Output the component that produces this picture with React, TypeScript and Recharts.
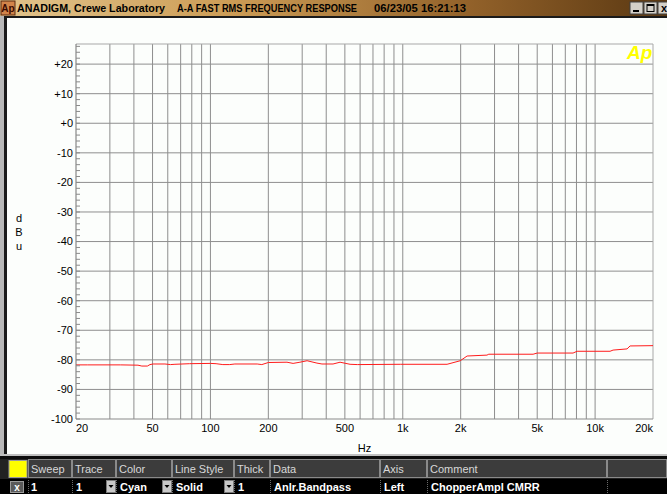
import React from 'react';
import { LineChart, Line, XAxis, YAxis, CartesianGrid, ReferenceLine } from 'recharts';

// Trace: Anlr.Bandpass level vs frequency
const FREQ_HZ = [20, 23, 34, 42, 44, 47, 48.5, 50.3, 58, 62, 65.4, 78, 100, 107, 116, 126, 134, 175, 185, 200, 250, 269, 292, 318, 358, 380, 434, 472, 532, 580, 970, 1700, 1990, 2160, 2740, 2800, 4760, 5000, 7680, 8060, 11960, 12400, 14660, 15200, 20000];
const LEVEL_DBU = [-81.7, -81.7, -81.7, -81.8, -82.1, -82.1, -81.6, -81.4, -81.4, -81.6, -81.5, -81.3, -81.2, -81.3, -81.6, -81.6, -81.4, -81.4, -81.6, -80.9, -80.8, -81.2, -80.8, -80.3, -81.1, -81.4, -81.4, -80.8, -81.5, -81.6, -81.5, -81.5, -80.3, -78.7, -78.4, -78.1, -78.1, -77.7, -77.7, -77.1, -77.1, -76.7, -76.3, -75.3, -75.2];

const X_LABEL_TICKS = [20, 50, 100, 200, 500, 1000, 2000, 5000, 10000, 20000];
const X_LABEL_TEXT = ['20', '50', '100', '200', '500', '1k', '2k', '5k', '10k', '20k'];
const X_GRID = [30, 40, 50, 60, 70, 80, 90, 100, 200, 300, 400, 500, 600, 700, 800, 900, 1000, 2000, 3000, 4000, 5000, 6000, 7000, 8000, 9000, 10000];
const Y_TICKS = [-100, -98, -96, -94, -92, -90, -88, -86, -84, -82, -80, -78, -76, -74, -72, -70, -68, -66, -64, -62, -60, -58, -56, -54, -52, -50, -48, -46, -44, -42, -40, -38, -36, -34, -32, -30, -28, -26, -24, -22, -20, -18, -16, -14, -12, -10, -8, -6, -4, -2, 0, 2, 4, 6, 8, 10, 12, 14, 16, 18, 20, 22, 24, 26];
const Y_GRID = [-90, -80, -70, -60, -50, -40, -30, -20, -10, 0, 10, 20];
const Y_DOMAIN: [number, number] = [-100, 26.8];
const X_DOMAIN: [number, number] = [20, 20000];

const HEADER_COLS = ['Sweep', 'Trace', 'Color', 'Line Style', 'Thick', 'Data', 'Axis', 'Comment', ''];
const ROW_VALUES = ['1', '1', 'Cyan', 'Solid', '1', 'Anlr.Bandpass', 'Left', 'ChopperAmpl CMRR', ''];
const COL_EDGES = [28, 72, 116, 172, 234, 270, 380, 427, 607, 667];
const DROPDOWN_COLS = [2, 3, 4];

const data = FREQ_HZ.map((f, i) => ({ f, v: LEVEL_DBU[i] }));

const FONT = '"Liberation Sans", Arial, sans-serif';

const fmtY = (v: number) => (v > 0 ? `+${v}` : v === 0 ? '+0' : `${v}`);

const XTick = (props: any) => {
  const { x, y, payload } = props;
  const i = X_LABEL_TICKS.findIndex((t) => Math.abs(t - payload.value) < 1e-6);
  if (i < 0) return <g />;
  const anchor = i === 0 ? 'start' : i === X_LABEL_TICKS.length - 1 ? 'end' : 'middle';
  return (
    <text x={x} y={y + 8} textAnchor={anchor} fontSize={11} fontFamily={FONT} fill="#000">
      {X_LABEL_TEXT[i]}
    </text>
  );
};

const YTick = (props: any) => {
  const { x, y, payload } = props;
  const v = payload.value;
  const axisX = x + 3;
  return (
    <g>
      <line x1={axisX} x2={axisX + 4} y1={y} y2={y} stroke="#8a8a8a" strokeWidth={1} />
      {v % 10 === 0 && (
        <text x={x} y={y} dy="0.355em" textAnchor="end" fontSize={11} fontFamily={FONT} fill="#000">
          {fmtY(v)}
        </text>
      )}
    </g>
  );
};

const DbuLabel = (props: any) => {
  const vb = props.viewBox || { x: 6, y: 44, width: 70, height: 375 };
  const cx = vb.x + 13;
  const cy = vb.y + vb.height / 2;
  return (
    <g fontSize={11} fontFamily={FONT} fill="#000" textAnchor="middle">
      <text x={cx} y={cy - 9.5}>d</text>
      <text x={cx} y={cy + 4.5}>B</text>
      <text x={cx} y={cy + 18.5}>u</text>
    </g>
  );
};

const Chrome = () => (
  <svg width={667} height={494} style={{ position: 'absolute', left: 0, top: 0, pointerEvents: 'none' }}>
    <defs>
      <linearGradient id="tb" x1="0" x2="1" y1="0" y2="0">
        <stop offset="0%" stopColor="#e2c48c" />
        <stop offset="35%" stopColor="#cc9c55" />
        <stop offset="70%" stopColor="#93622a" />
        <stop offset="100%" stopColor="#5a3812" />
      </linearGradient>
    </defs>
    {/* title bar */}
    <rect x={0} y={0} width={667} height={16} fill="url(#tb)" />
    <rect x={1} y={1} width={14} height={14} fill="#d2844a" stroke="#5a2a10" />
    <text x={8} y={12} textAnchor="middle" fontSize={10} fontWeight="bold" fontFamily={FONT} fill="#3a0a00">Ap</text>
    <text x={17} y={12} fontSize={10} fontWeight="bold" fontFamily={FONT} fill="#000" textLength={148} lengthAdjust="spacingAndGlyphs">ANADIGM, Crewe Laboratory</text>
    <text x={177} y={12} fontSize={10} fontWeight="bold" fontFamily={FONT} fill="#000" textLength={180} lengthAdjust="spacingAndGlyphs">A-A FAST RMS FREQUENCY RESPONSE</text>
    <text x={374} y={12} fontSize={10} fontWeight="bold" fontFamily={FONT} fill="#000" textLength={92} lengthAdjust="spacingAndGlyphs">06/23/05 16:21:13</text>
    {/* window buttons */}
    <rect x={630} y={2} width={13} height={12} fill="#d4d0c8" stroke="#404040" />
    <rect x={633} y={10} width={6} height={2} fill="#000" />
    <rect x={644} y={2} width={13} height={12} fill="#d4d0c8" stroke="#404040" />
    <rect x={647} y={4.5} width={7} height={7} fill="none" stroke="#000" />
    <rect x={647} y={4.5} width={7} height={1.5} fill="#000" />
    <rect x={658} y={2} width={13} height={12} fill="#d4d0c8" stroke="#404040" />
    <text x={664} y={12} textAnchor="middle" fontSize={11} fontWeight="bold" fontFamily={FONT} fill="#000">x</text>
    {/* borders */}
    <rect x={0} y={16} width={667} height={2} fill="#1a1a1a" />
    <rect x={0} y={16} width={4} height={440} fill="#b8b8b8" />
    <rect x={4} y={16} width={3} height={440} fill="#1a1a1a" />
    {/* Ap logo */}
    <text x={627} y={58.5} fontSize={19} fontWeight="bold" fontStyle="italic" fontFamily={FONT} fill="#ffff00">Ap</text>
    {/* bottom panel */}
    <rect x={0} y={454} width={667} height={2} fill="#c0c0c0" />
    <rect x={0} y={456} width={667} height={3} fill="#0c0c0c" />
    <rect x={0} y={459} width={667} height={20} fill="#222" />
    <rect x={0} y={479} width={667} height={15} fill="#000" />
    <rect x={9} y={460.5} width={18} height={17} fill="#ffff00" stroke="#9a9a9a" />
    {HEADER_COLS.map((h, i) => (
      <g key={`h${i}`}>
        <rect x={COL_EDGES[i] + 0.5} y={459.5} width={COL_EDGES[i + 1] - COL_EDGES[i] - 1} height={18} fill="#3c3c3c" stroke="#8a8a8a" />
        <text x={COL_EDGES[i] + 3} y={473} fontSize={11} fontFamily={FONT} fill="#d8d8d8">{h}</text>
      </g>
    ))}
    <rect x={10.5} y={481.5} width={13} height={11} fill="#5a5a5a" stroke="#9a9a9a" />
    <text x={17} y={491} textAnchor="middle" fontSize={10} fontWeight="bold" fontFamily={FONT} fill="#fff">x</text>
    {ROW_VALUES.map((r, i) => (
      <g key={`r${i}`}>
        <line x1={COL_EDGES[i] + 0.5} x2={COL_EDGES[i] + 0.5} y1={480} y2={493} stroke="#6a6a6a" strokeDasharray="1 1" />
        {DROPDOWN_COLS.includes(i) && (
          <g>
            <rect x={COL_EDGES[i] - 9.5} y={480.5} width={9} height={12} fill="#c8c8c8" stroke="#7a7a7a" />
            <path d={`M${COL_EDGES[i] - 7.5} ${485} L${COL_EDGES[i] - 2.5} ${485} L${COL_EDGES[i] - 5} ${488} Z`} fill="#000" />
          </g>
        )}
        <text x={COL_EDGES[i] + (i === 0 ? 3 : 4)} y={491} fontSize={11} fontWeight="bold" fontFamily={FONT} fill="#fff">{r}</text>
      </g>
    ))}
  </svg>
);

export default function App() {
  return (
    <div style={{ position: 'fixed', left: 0, top: 0, width: 667, height: 494, background: '#fcfefc', overflow: 'hidden' }}>
      <div style={{ position: 'absolute', left: 0, top: 0 }}>
        <LineChart width={667} height={494} data={data} margin={{ top: 44, right: 14, bottom: 35, left: 6 }}>
          <CartesianGrid stroke="#8e8e8e" horizontalValues={Y_GRID} verticalValues={X_GRID} />
          <XAxis
            dataKey="f"
            type="number"
            scale="log"
            domain={X_DOMAIN}
            allowDataOverflow
            ticks={X_LABEL_TICKS}
            interval={0}
            height={40}
            tickLine={false}
            tickSize={0}
            tickMargin={5}
            axisLine={{ stroke: '#8a8a8a' }}
            tick={<XTick />}
            label={{ value: 'Hz', position: 'insideBottom', offset: 7, fontSize: 11, fontFamily: FONT, fill: '#000' }}
          />
          <YAxis
            type="number"
            domain={Y_DOMAIN}
            allowDataOverflow
            ticks={Y_TICKS}
            interval={0}
            width={70}
            tickLine={false}
            tickSize={0}
            tickMargin={3}
            axisLine={{ stroke: '#707070' }}
            tick={<YTick />}
            label={<DbuLabel />}
          />
          <ReferenceLine y={Y_DOMAIN[1]} stroke="#a8a8a8" />
          <ReferenceLine x={X_DOMAIN[1]} stroke="#a8a8a8" />
          <Line type="linear" dataKey="v" stroke="#ff1c1c" strokeWidth={1} dot={false} isAnimationActive={false} />
        </LineChart>
      </div>
      <Chrome />
    </div>
  );
}
